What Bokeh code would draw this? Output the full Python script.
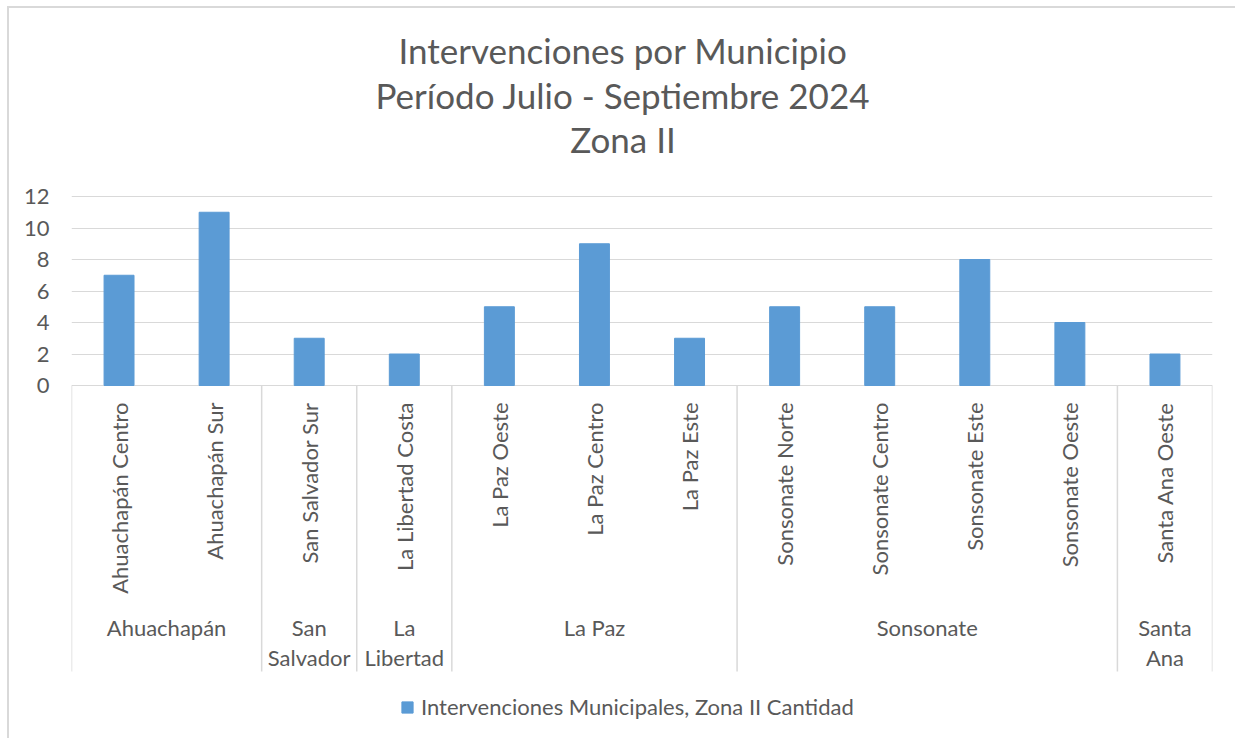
import math
from bokeh.plotting import figure
from bokeh.models import Range1d, FixedTicker, Legend, LegendItem, ColumnDataSource
from bokeh.core.properties import value
from bokeh.embed import file_html
from bokeh.resources import INLINE

# ---------------- data ----------------
title_lines = ["Intervenciones por Municipio", "Período Julio - Septiembre 2024", "Zona II"]
municipios = ["Ahuachapán Centro", "Ahuachapán Sur", "San Salvador Sur", "La Libertad Costa",
              "La Paz Oeste", "La Paz Centro", "La Paz Este", "Sonsonate Norte",
              "Sonsonate Centro", "Sonsonate Este", "Sonsonate Oeste", "Santa Ana Oeste"]
departamentos = ["Ahuachapán", "Ahuachapán", "San Salvador", "La Libertad",
                 "La Paz", "La Paz", "La Paz", "Sonsonate",
                 "Sonsonate", "Sonsonate", "Sonsonate", "Santa Ana"]
cantidad = [7, 11, 3, 2, 5, 9, 3, 5, 5, 8, 4, 2]
y_ticks = [0, 2, 4, 6, 8, 10, 12]
series_name = "Intervenciones Municipales, Zona II Cantidad"

# ---------------- style ----------------
FONT = "Lato"
TEXT = "#595959"
GRID = "#d9d9d9"
BAR = "#5b9bd5"
MX, MY = 9, 8                # figure offset on the page
PX = 15.75                   # vertical pixels per unit of the value axis
ZERO_PX = 385 - MY           # pixel row of the zero line inside the figure
H = 732
Y_TOP = ZERO_PX / PX         # top of the frame (title area above the bars)
Y_BOTTOM = -(H - ZERO_PX) / PX   # bottom of the frame (labels + legend area)
Y_SEP = -286 / PX            # bottom end of the group separators
TITLE_BASELINES = [49 - MY, 94 - MY, 138 - MY]

n = len(municipios)
xs = [i + 0.5 for i in range(n)]

# groups (departamentos) derived from the data
groups = []
for i, d in enumerate(departamentos):
    if groups and groups[-1][0] == d:
        groups[-1][2] = i + 1
    else:
        groups.append([d, i, i + 1])
bounds = sorted(set([g[1] for g in groups] + [g[2] for g in groups]))

p = figure(width=1228, height=H, output_backend="svg", toolbar_location=None,
           x_range=Range1d(0, n), y_range=Range1d(Y_BOTTOM, Y_TOP),
           min_border_left=71 - MX, min_border_right=1228 - (1212 - MX),
           min_border_top=0, min_border_bottom=0)
# chart-area border (left and top edges, as in the source image)
p.styles = {"margin-left": f"{MX}px", "margin-top": f"{MY}px",
            "box-shadow": "-2px -2px 0 0 #d9d9d9"}
p.outline_line_color = None
p.background_fill_color = "white"
p.border_fill_color = "white"

p.xaxis.visible = False
p.xgrid.visible = False
p.yaxis.ticker = FixedTicker(ticks=y_ticks)
p.yaxis.axis_line_color = None
p.yaxis.major_tick_line_color = None
p.yaxis.minor_tick_line_color = None
p.yaxis.major_label_standoff = 16
p.yaxis.major_label_text_font = FONT
p.yaxis.major_label_text_font_size = "22px"
p.yaxis.major_label_text_color = TEXT
p.ygrid.ticker = FixedTicker(ticks=y_ticks)
p.ygrid.grid_line_color = GRID
p.ygrid.grid_line_width = 1

# chart title (three centred lines)
p.text(x=[n / 2] * len(title_lines), y=[(ZERO_PX - b) / PX for b in TITLE_BASELINES],
       text=title_lines, x_offset=-19, text_align="center", text_baseline="alphabetic",
       text_font=value(FONT), text_font_size="35px", text_color=TEXT)

src = ColumnDataSource(dict(x=xs, top=cantidad, name=municipios))
bars = p.vbar(x="x", top="top", bottom=0, width=0.315, source=src,
              fill_color=BAR, line_color=BAR)

# group separators of the two-level category axis
p.segment(x0=bounds, y0=[0] * len(bounds), x1=bounds, y1=[Y_SEP] * len(bounds),
          line_color=GRID, line_width=1.5)

# municipio labels (vertical)
p.text(x=xs, y=[-17 / PX] * n, text=municipios, angle=math.pi / 2,
       text_align="right", text_baseline="middle", text_font=value(FONT),
       text_font_size="22px", text_color=TEXT)

# departamento labels (wrapped when the group is a single column)
gx, line1, line2 = [], [], []
for name, s, e in groups:
    gx.append((s + e) / 2)
    if e - s == 1 and " " in name:
        a, b = name.split(" ", 1)
        line1.append(a)
        line2.append(b)
    else:
        line1.append(name)
        line2.append("")
p.text(x=gx, y=[-242 / PX] * len(gx), text=line1, text_align="center",
       text_baseline="middle", text_font=value(FONT), text_font_size="22px", text_color=TEXT)
p.text(x=gx, y=[-272 / PX] * len(gx), text=line2, text_align="center",
       text_baseline="middle", text_font=value(FONT), text_font_size="22px", text_color=TEXT)

legend = Legend(items=[LegendItem(label=series_name, renderers=[bars])],
                location=(329, 14 + (742 - MY - H) * 0 + 6), orientation="horizontal",
                glyph_width=14, glyph_height=14, label_standoff=7, label_height=20,
                label_text_font=FONT, label_text_font_size="22px", label_text_color=TEXT,
                border_line_color=None, background_fill_alpha=0, padding=0, margin=0)
p.add_layout(legend)

open("out.html", "w").write(file_html(p, INLINE))
